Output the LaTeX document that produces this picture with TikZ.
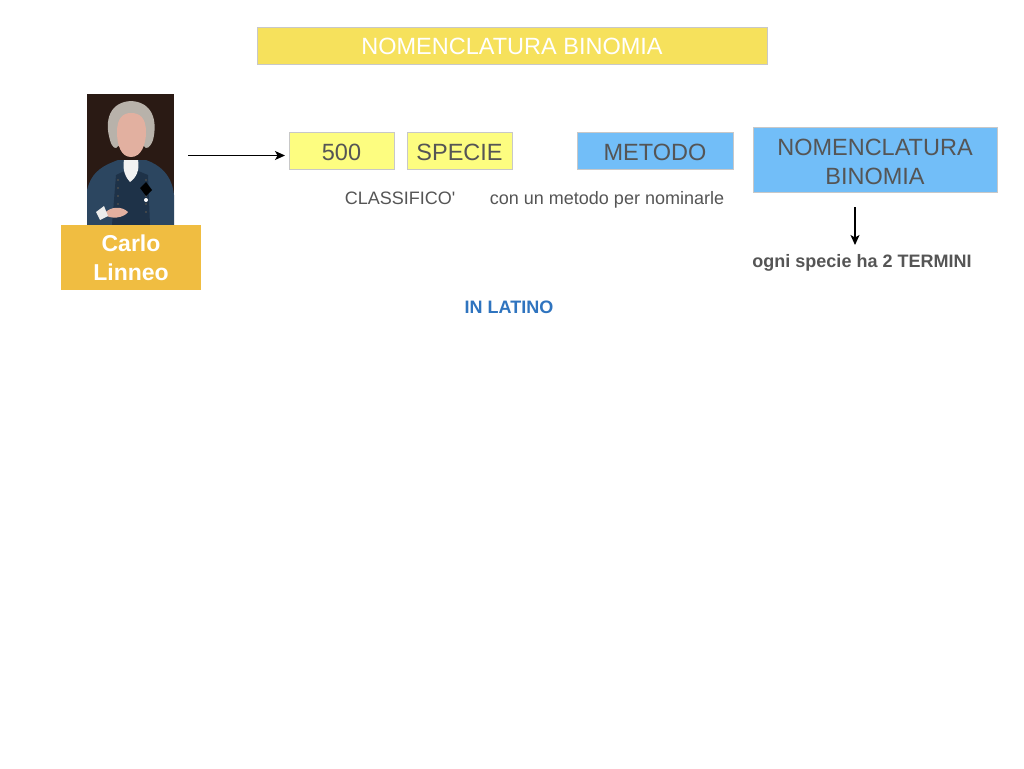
\documentclass[tikz,border=0pt]{standalone}
\usepackage{fontspec}
\setmainfont{Liberation Sans}
\newfontfamily\plainfont{Liberation Sans}
\usetikzlibrary{arrows.meta}
\definecolor{titley}{HTML}{F6E15C}
\definecolor{boxy}{HTML}{FDFD80}
\definecolor{boxb}{HTML}{72BEF8}
\definecolor{orangey}{HTML}{F0BD41}
\definecolor{txtg}{HTML}{555555}
\definecolor{latblue}{HTML}{2F74BF}
\definecolor{bordg}{HTML}{C8C8C8}
\definecolor{bgdark}{HTML}{2A1A14}
\definecolor{coat}{HTML}{2C4660}
\definecolor{coatd}{HTML}{1E3248}
\definecolor{wig}{HTML}{B8B2AA}
\definecolor{skin}{HTML}{E2B0A0}
\tikzset{
  box/.style={draw=bordg, line width=0.8pt, inner sep=0pt, align=center, text=txtg, font=\fontsize{23.5}{29}\selectfont, text height=19.8pt, text depth=0pt},
  boxtext/.style={inner sep=0pt, text=txtg, font=\fontsize{23.5}{29}\selectfont, text height=16.8pt, text depth=0pt},
  note/.style={inner sep=0pt, anchor=base, text=txtg, font=\fontsize{18}{21}\selectfont},
  conn/.style={-{Stealth[length=10pt,width=9pt,inset=2.5pt]}, line width=1.2pt, black}
}
\begin{document}
\begin{tikzpicture}[x=1pt,y=-1pt]
\useasboundingbox (0,0) rectangle (1024,768);
\fill[white] (0,0) rectangle (1024,768);
% title
\node[box, fill=titley, text=white, minimum width=510pt, minimum height=37pt, text height=17.4pt] (title) at (512,45.5) {NOMENCLATURA BINOMIA};
% portrait
\begin{scope}
\clip (87,94) rectangle (174,225);
\fill[bgdark] (87,94) rectangle (174,225);
\fill[coat] (87,225) -- (87,190) .. controls (92,170) and (105,165) .. (118,160) -- (146,160) .. controls (160,165) and (172,175) .. (174,195) -- (174,225) -- cycle;
\fill[coatd] (112,225) -- (116,175) -- (131,168) -- (148,175) -- (150,225) -- cycle;
\foreach \yy in {180,188,196,204,212} {\fill[black!70] (118,\yy) circle (1.2pt); \fill[black!70] (146,\yy) circle (1.2pt);}
\fill[white!90!gray] (124,160) .. controls (122,170) and (126,178) .. (130,182) .. controls (136,178) and (140,170) .. (138,160) -- cycle;
\fill[wig] (110,140) .. controls (104,120) and (110,102) .. (131,101) .. controls (152,102) and (158,120) .. (153,140) .. controls (150,148) and (146,150) .. (144,146) -- (118,146) .. controls (116,150) and (112,148) .. (110,140) -- cycle;
\fill[skin] (131,157) .. controls (121,157) and (117,145) .. (117,132) .. controls (117,118) and (123,113) .. (131,113) .. controls (140,113) and (146,118) .. (146,132) .. controls (146,145) and (141,157) .. (131,157) -- cycle;
\fill[skin] (104,214) .. controls (110,206) and (122,206) .. (128,212) .. controls (124,218) and (110,220) .. (104,214) -- cycle;
\fill[white!85!gray] (96,212) -- (104,206) -- (108,216) -- (100,220) -- cycle;
\fill[black] (140,188) -- (146,182) -- (152,190) -- (146,196) -- cycle;
\fill[white] (146,200) circle (2pt);
\end{scope}
\node[inner sep=0pt, minimum width=87pt, minimum height=131pt] (portrait) at (130.5,159.5) {};
% Carlo Linneo
\node[fill=orangey, inner sep=0pt, minimum width=140pt, minimum height=65pt, align=center, text=white, font=\bfseries\fontsize{23}{29}\selectfont] (linneo) at (131,257.5) {Carlo\\Linneo};
% boxes
\node[box, fill=boxy, minimum width=105pt, minimum height=37pt] (n500) at (341.5,150.5) {500};
\node[box, fill=boxy, minimum width=105pt, minimum height=37pt] (specie) at (459.5,150.5) {SPECIE};
\node[box, fill=boxb, minimum width=156pt, minimum height=37pt] (metodo) at (655,150.5) {METODO};
\node[box, fill=boxb, minimum width=244pt, minimum height=65pt] (nomb) at (875,159.5) {};
\node[boxtext] (nomb1) at (875,147.5) {NOMENCLATURA};
\node[boxtext] (nomb2) at (875,176.5) {BINOMIA};
% notes
\node[note, font=\plainfont\fontsize{18}{21}\selectfont] (classif) at (400,204.5) {CLASSIFICO'};
\node[note] (conun) at (607,204.5) {con un metodo per nominarle};
\node[note, font=\bfseries\fontsize{18}{21}\selectfont] (ogni) at (862,267.5) {ogni specie ha 2 TERMINI};
\node[note, text=latblue, font=\bfseries\fontsize{18}{21}\selectfont] (latino) at (509,313.5) {IN LATINO};
% connectors
\coordinate (a1) at (188,155.5);
\coordinate (a2) at (285,155.5);
\draw[conn] (a1) -- (a2);
\coordinate (d1) at (855,207);
\coordinate (d2) at (855,245);
\draw[conn] (d1) -- (d2);
\end{tikzpicture}
\end{document}
